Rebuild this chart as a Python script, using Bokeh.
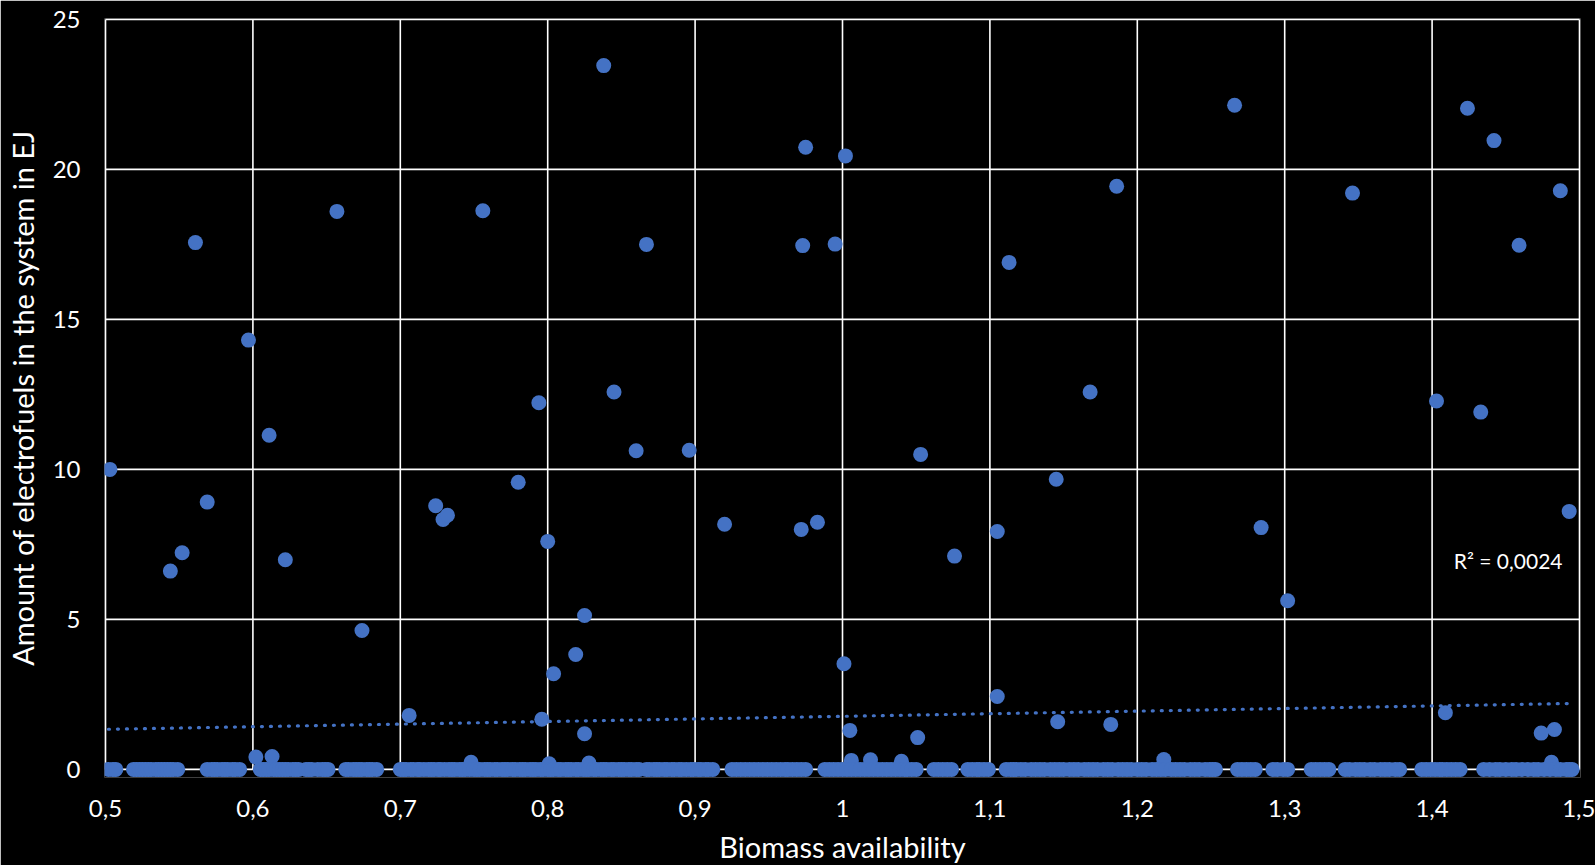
import numpy as np
from bokeh.plotting import figure
from bokeh.models import Range1d, FixedTicker, CustomJSTickFormatter, Label, ColumnDataSource
from bokeh.embed import file_html
from bokeh.resources import INLINE

# Runs that end with a positive amount of electrofuels (biomass availability, EJ)
biomass = [
    0.503, 0.544, 0.552, 0.561, 0.569, 0.597, 0.602, 0.611, 0.613, 0.622,
    0.657, 0.674, 0.706, 0.724, 0.729, 0.732, 0.748, 0.756, 0.780, 0.794,
    0.796, 0.800, 0.801, 0.804, 0.819, 0.825, 0.825, 0.828, 0.838, 0.845,
    0.860, 0.867, 0.896, 0.920, 0.972, 0.973, 0.975, 0.983, 0.995, 1.001,
    1.002, 1.005, 1.006, 1.019, 1.040, 1.051, 1.053, 1.076, 1.105, 1.105,
    1.113, 1.145, 1.146, 1.168, 1.182, 1.186, 1.218, 1.266, 1.284, 1.302,
    1.346, 1.403, 1.409, 1.424, 1.433, 1.442, 1.459, 1.474, 1.481, 1.483,
    1.487, 1.493,
]
electrofuels = [
    10.00, 6.61, 7.22, 17.56, 8.91, 14.31, 0.41, 11.14, 0.43, 6.99,
    18.60, 4.63, 1.80, 8.79, 8.33, 8.47, 0.24, 18.62, 9.57, 12.22,
    1.67, 7.60, 0.19, 3.19, 3.83, 1.19, 5.13, 0.21, 23.46, 12.58,
    10.62, 17.50, 10.64, 8.17, 8.00, 17.46, 20.74, 8.24, 17.51, 3.52,
    20.45, 1.30, 0.30, 0.32, 0.27, 1.06, 10.50, 7.11, 7.93, 2.43,
    16.90, 9.67, 1.59, 12.58, 1.50, 19.44, 0.33, 22.14, 8.06, 5.62,
    19.21, 12.28, 1.89, 22.04, 11.91, 20.96, 17.47, 1.21, 0.24, 1.33,
    19.29, 8.60,
]

# Runs in which no electrofuels enter the system
zero_biomass = [
    0.502, 0.505, 0.507,
    0.519, 0.521, 0.523, 0.525, 0.527, 0.529, 0.531, 0.534, 0.536, 0.538,
    0.540, 0.542, 0.544, 0.546, 0.549,
    0.569, 0.572, 0.574, 0.576, 0.579, 0.581, 0.583, 0.586, 0.588, 0.591,
    0.605, 0.607, 0.609, 0.611, 0.614, 0.616, 0.618, 0.620, 0.622, 0.624,
    0.627, 0.629, 0.631, 0.636, 0.638, 0.640, 0.644, 0.647, 0.649, 0.651,
    0.663, 0.665, 0.668, 0.670, 0.672, 0.674, 0.677, 0.679, 0.681, 0.684,
    0.700, 0.702, 0.704, 0.707, 0.709, 0.712, 0.713, 0.716, 0.719, 0.721,
    0.723, 0.726, 0.727, 0.730, 0.733, 0.735, 0.737, 0.740, 0.742, 0.744,
    0.747, 0.750, 0.752, 0.754, 0.757, 0.759, 0.761, 0.764, 0.766, 0.769,
    0.771, 0.773, 0.776, 0.778, 0.781, 0.783, 0.785, 0.788, 0.790, 0.792,
    0.795, 0.797, 0.800, 0.802, 0.804, 0.807, 0.809, 0.812, 0.814, 0.816,
    0.819, 0.821, 0.824, 0.826, 0.828, 0.831, 0.833, 0.836, 0.838, 0.840,
    0.843, 0.845, 0.848, 0.850, 0.852, 0.855, 0.857, 0.860, 0.862,
    0.867, 0.869, 0.872, 0.874, 0.876, 0.879, 0.881, 0.884, 0.886, 0.889,
    0.891, 0.894, 0.897, 0.899, 0.902, 0.904, 0.907, 0.909, 0.912,
    0.925, 0.928, 0.931, 0.934, 0.937, 0.940, 0.943, 0.946, 0.949, 0.952,
    0.955, 0.958, 0.961, 0.963, 0.966, 0.969, 0.972, 0.975,
    0.988, 0.991, 0.994, 0.997, 1.000, 1.003, 1.006, 1.009, 1.012, 1.015,
    1.018, 1.021, 1.024, 1.027, 1.030, 1.033, 1.036, 1.039, 1.042, 1.044,
    1.047, 1.050,
    1.062, 1.065, 1.068, 1.071, 1.074,
    1.085, 1.088, 1.091, 1.093, 1.096, 1.099,
    1.111, 1.114, 1.116, 1.118, 1.121, 1.124, 1.128, 1.131, 1.134, 1.137,
    1.141, 1.144, 1.147, 1.150, 1.154, 1.157, 1.160, 1.164, 1.167, 1.170,
    1.173, 1.177, 1.180, 1.183, 1.187, 1.190, 1.193, 1.196, 1.200, 1.203,
    1.206, 1.210, 1.213, 1.216, 1.219, 1.223, 1.226, 1.229, 1.232, 1.236,
    1.239, 1.242, 1.246, 1.249, 1.251, 1.253,
    1.268, 1.271, 1.274, 1.277, 1.280,
    1.292, 1.295, 1.299, 1.302,
    1.318, 1.321, 1.324, 1.327, 1.330,
    1.341, 1.344, 1.348, 1.351, 1.354, 1.358, 1.361, 1.365, 1.368, 1.371,
    1.375, 1.378,
    1.393, 1.396, 1.399, 1.402, 1.405, 1.407, 1.410, 1.413, 1.416, 1.419,
    1.435, 1.439, 1.443, 1.446, 1.450, 1.454, 1.457, 1.461, 1.465, 1.469,
    1.472, 1.476, 1.480, 1.484, 1.487, 1.491, 1.493, 1.495,
]

x_ticks = [0.5, 0.6, 0.7, 0.8, 0.9, 1.0, 1.1, 1.2, 1.3, 1.4, 1.5]
y_ticks = [0, 5, 10, 15, 20, 25]
r2_text = "R\u00b2 = 0,0024"
r2_pos = (1.4147, 6.95)

x_title = "Biomass availability"
y_title = "Amount of electrofuels in the system in EJ"

BLUE = "#4472C4"
FONT = "Lato"

# All runs together, and the least-squares trend through them
x_all = np.array(biomass + zero_biomass, dtype=float)
y_all = np.array(electrofuels + [0.0] * len(zero_biomass), dtype=float)
slope, intercept = np.polyfit(x_all, y_all, 1)
trend_x = [float(x_all.min()), float(x_all.max())]
trend_y = [intercept + slope * v for v in trend_x]

p = figure(
    frame_width=1476, frame_height=759,
    x_range=Range1d(0.49932, 1.50068), y_range=Range1d(-0.27, 25.03),
    min_border_left=104, min_border_right=15, min_border_top=18, min_border_bottom=88,
    background_fill_color="black", border_fill_color="black",
    outline_line_color=None, output_backend="svg", toolbar_location=None,
)

p.xgrid.visible = False
p.ygrid.visible = False

# Grid drawn between the axis limits only
p.segment(x0=x_ticks, y0=y_ticks[0], x1=x_ticks, y1=y_ticks[-1],
          line_color="white", line_width=1.6)
p.segment(x0=x_ticks[0], y0=y_ticks, x1=x_ticks[-1], y1=y_ticks,
          line_color="white", line_width=1.6)

src = ColumnDataSource(dict(x=x_all, y=y_all))
p.scatter("x", "y", source=src, size=15, fill_color=BLUE, line_color=None)

p.line(trend_x, trend_y, line_color=BLUE, line_width=3.2,
       line_dash="1 8", line_cap="round")

p.add_layout(Label(x=r2_pos[0], y=r2_pos[1], text=r2_text, text_color="white",
                   text_font=FONT, text_font_size="21px",
                   text_align="left", text_baseline="middle"))

for ax in (p.xaxis[0], p.yaxis[0]):
    ax.axis_line_color = None
    ax.major_tick_line_color = None
    ax.minor_tick_line_color = None
    ax.major_tick_out = 0
    ax.major_tick_in = 0
    ax.major_label_text_color = "white"
    ax.major_label_text_font = FONT
    ax.major_label_text_font_size = "24px"
    ax.axis_label_text_color = "white"
    ax.axis_label_text_font = FONT
    ax.axis_label_text_font_size = "29px"
    ax.axis_label_text_font_style = "normal"

p.xaxis.ticker = FixedTicker(ticks=x_ticks)
p.xaxis.formatter = CustomJSTickFormatter(
    code="return (Math.round(tick * 10) / 10).toString().replace('.', ',');")
p.xaxis.axis_label = x_title
p.xaxis.major_label_standoff = 22
p.xaxis.axis_label_standoff = 9

p.yaxis.ticker = FixedTicker(ticks=y_ticks)
p.yaxis.axis_label = y_title
p.yaxis.major_label_standoff = 24
p.yaxis.axis_label_standoff = 10

open("out.html", "w").write(file_html(p, INLINE))
